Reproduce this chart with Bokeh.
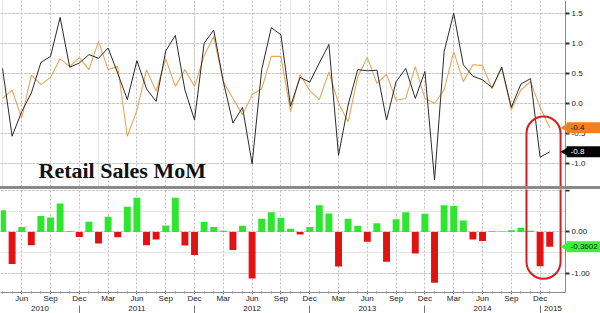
import numpy as np
from bokeh.plotting import figure
from bokeh.models import (ColumnDataSource, LinearAxis, FixedTicker, Grid, Label,
                          BoxAnnotation, Range1d, NumeralTickFormatter, Div)
from bokeh.layouts import column
from bokeh.embed import file_html
from bokeh.resources import INLINE

# ---------------- data (monthly, Apr 2010 .. Jan 2015) ----------------
month_names = ["Jan", "Feb", "Mar", "Apr", "May", "Jun",
               "Jul", "Aug", "Sep", "Oct", "Nov", "Dec"]
start_year, start_month = 2010, 4

actual = [0.59, -0.54, -0.13, 0.18, 0.69, 0.79, 1.44, 0.61, 0.68, 0.82,
          0.76, 0.93, 0.51, 0.07, 0.72, 0.25, 0.04, 0.88, 1.14, 0.23,
          -0.27, 1.01, 1.23, 0.37, -0.32, -0.06, -1.00, 0.57, 1.27, 1.15,
          -0.04, 0.44, 0.36, 0.68, 0.99, -0.86, -0.02, 0.57, 0.55, 0.56,
          -0.27, 0.37, 0.59, 0.09, 0.54, -1.27, 0.87, 1.51, 0.65, 0.46,
          0.40, 0.27, 0.61, -0.06, 0.33, 0.42, -0.89, -0.80]

expected = [0.09, 0.23, -0.24, 0.48, 0.32, 0.44, 0.75, 0.62, 0.77, 0.57,
            1.04, 0.57, 0.62, -0.54, -0.11, 0.57, 0.21, 0.75, 0.29, 0.57,
            0.29, 0.80, 1.12, 0.37, 0.09, -0.18, 0.15, 0.25, 0.79, 0.79,
            -0.13, 0.49, 0.22, 0.07, 0.53, 0.01, -0.30, 0.45, 0.77, 0.34,
            0.49, 0.06, 0.09, 0.62, 0.09, 0.01, 0.23, 0.87, 0.37, 0.65,
            0.64, 0.25, 0.61, -0.10, 0.23, 0.37, -0.06, -0.40]

surprise = [0.53, -0.78, 0.12, -0.32, 0.39, 0.35, 0.69, 0.02, -0.12, 0.25,
            -0.28, 0.37, -0.13, 0.61, 0.83, -0.32, -0.18, 0.16, 0.83, -0.33,
            -0.56, 0.24, 0.12, 0.03, -0.44, 0.15, -1.13, 0.32, 0.48, 0.34,
            0.08, -0.06, 0.12, 0.65, 0.45, -0.84, 0.32, 0.15, -0.24, 0.21,
            -0.72, 0.31, 0.48, -0.52, 0.44, -1.23, 0.65, 0.63, 0.28, -0.18,
            -0.22, 0.02, 0.01, 0.04, 0.10, 0.03, -0.83, -0.3602]

top_ticks = [-1.0, -0.5, 0.0, 0.5, 1.0, 1.5]
bottom_ticks = [-1, 0, 1]

last_actual_label = "-0.8"
last_expected_label = "-0.4"
last_surprise_label = "-0.3602"
title_text = "Retail Sales MoM"

# ---------------- derived positions ----------------
n = len(actual)
idx = list(range(n))
month_of = [(start_month - 1 + i) % 12 + 1 for i in idx]
year_of = [start_year + (start_month - 1 + i) // 12 for i in idx]
quarter_idx = [i for i in idx if month_of[i] % 3 == 0]
dec_idx = [i for i in idx if month_of[i] == 12]

x_start = -0.21
axis_pos = n - 1 + 1.65          # where the value axis sits
x_max = n - 1 + 5.29             # right edge of the canvas
x_range = Range1d(x_start, x_max)

years = sorted(set(year_of))
bounds = [x_start] + dec_idx + [axis_pos]
year_centers = [round((bounds[k] + bounds[k + 1]) / 2, 2) for k in range(len(years))]
year_centers = [int(c) if float(c).is_integer() else c for c in year_centers]

FONT = "Liberation Sans"
GRID_COLOR = "#bdbdbd"
RED_BOX = "#d91c1c"

src = ColumnDataSource(dict(
    x=idx, actual=actual, expected=expected, surprise=surprise,
    color=["#2fe62f" if v >= 0 else "#e31212" for v in surprise],
))


def make_value_axis(fig, ticks, fmt):
    ax = LinearAxis(ticker=FixedTicker(ticks=ticks),
                    formatter=NumeralTickFormatter(format=fmt),
                    fixed_location=axis_pos,
                    major_label_text_font=FONT, major_label_text_font_size="8px",
                    major_label_text_color="#222222", axis_line_color="#8a8a8a",
                    major_tick_in=0, major_tick_out=4, major_tick_line_width=2,
                    major_tick_line_color="#333333", minor_tick_line_color=None,
                    major_label_standoff=2)
    fig.add_layout(ax, "right")
    fig.add_layout(Grid(dimension=1, ticker=ax.ticker, grid_line_color=GRID_COLOR,
                        grid_line_dash="2 2"))
    # keep the label strip right of the axis clean
    fig.add_layout(BoxAnnotation(left=axis_pos, level="underlay", fill_color="white",
                                 fill_alpha=1, line_color=None))
    return ax


def add_tag(fig, y, text, bg, fg):
    # pointer of the value tag
    fig.scatter([axis_pos], [y], marker="triangle", angle=np.pi / 2, size=9,
                fill_color=bg, line_color=None, level="overlay")
    fig.add_layout(Label(x=axis_pos, y=y, x_offset=1, text=text, text_font=FONT,
                         text_font_size="8px", text_color=fg, text_baseline="middle",
                         background_fill_color=bg, level="overlay",
                         padding=dict(left=4, right=20, top=3, bottom=3)))


common = dict(x_range=x_range, output_backend="svg", toolbar_location=None,
              y_axis_location=None, min_border_left=0, min_border_right=0,
              min_border_top=0, outline_line_color=None,
              background_fill_color="white", border_fill_color="white")

# ---------------- top panel ----------------
top = figure(width=600, height=186, y_range=Range1d(-1.378, 1.722),
             x_axis_location=None, min_border_bottom=0, **common)
make_value_axis(top, top_ticks, "0.0")
top.add_layout(Grid(dimension=0, ticker=FixedTicker(ticks=quarter_idx),
                    grid_line_color=GRID_COLOR, grid_line_dash="2 2"))

top.line("x", "expected", source=src, line_color="#e6a75a", line_width=1.1)
top.line("x", "actual", source=src, line_color="#2a2a2a", line_width=1)

top.add_layout(Label(x=3.75, y=-1.112, text=title_text, text_font="Liberation Serif",
                     text_font_style="bold", text_font_size="22px", text_color="#111111",
                     text_baseline="alphabetic"))

hl_left = dec_idx[-1] - 1.42
hl_right = n - 1 + 1.13
top.add_layout(BoxAnnotation(left=hl_left, right=hl_right, top=-0.212, bottom=-4,
                             fill_alpha=0, line_color=RED_BOX, line_alpha=1,
                             line_width=2, border_radius=17))

add_tag(top, expected[-1], last_expected_label, "#f08020", "#2a1200")
add_tag(top, actual[-1], last_actual_label, "#050505", "white")

# ---------------- separator ----------------
sep = Div(text="", width=600, height=3, margin=0,
          styles={"background-color": "#8a8a8a"})

# ---------------- bottom panel ----------------
bot = figure(width=600, height=124, y_range=Range1d(-1.469, 1.031),
             min_border_bottom=19, **common)
ax_b = make_value_axis(bot, bottom_ticks, "0.00")
ax_b.major_label_overrides = {1: ""}

xa = bot.xaxis[0]
xa.ticker = FixedTicker(ticks=quarter_idx, minor_ticks=idx)
xa.bounds = (x_start, axis_pos)
xa.major_label_overrides = {i: month_names[month_of[i] - 1] for i in quarter_idx}
xa.major_label_text_font = FONT
xa.major_label_text_font_size = "8px"
xa.major_label_text_color = "#222222"
xa.axis_line_color = "#8a8a8a"
xa.major_tick_in = 2
xa.major_tick_out = 2
xa.minor_tick_in = 1
xa.minor_tick_out = 1
xa.major_tick_line_color = "#8a8a8a"
xa.minor_tick_line_color = "#8a8a8a"
xa.major_label_standoff = -1
bot.xgrid.grid_line_color = GRID_COLOR
bot.xgrid.grid_line_dash = "2 2"

year_axis = LinearAxis(ticker=FixedTicker(ticks=year_centers, minor_ticks=dec_idx),
                       major_label_overrides={c: str(y) for c, y in zip(year_centers, years)},
                       axis_line_color=None, major_tick_line_color=None,
                       minor_tick_in=0, minor_tick_out=9, minor_tick_line_color="#777777",
                       major_label_standoff=-9, major_label_text_font=FONT,
                       major_label_text_font_size="8px", major_label_text_color="#222222")
bot.add_layout(year_axis, "below")

bot.vbar(x="x", top="surprise", bottom=0, width=0.72, source=src,
         fill_color="color", line_color=None)

bot.add_layout(BoxAnnotation(left=hl_left, right=hl_right, top=4, bottom=-1.136,
                             fill_alpha=0, line_color=RED_BOX, line_alpha=1,
                             line_width=2, border_radius=17))
add_tag(bot, surprise[-1], last_surprise_label, "#3cf03c", "#0d2a0d")

layout = column(top, sep, bot, spacing=0)
open("out.html", "w").write(file_html(layout, INLINE))
